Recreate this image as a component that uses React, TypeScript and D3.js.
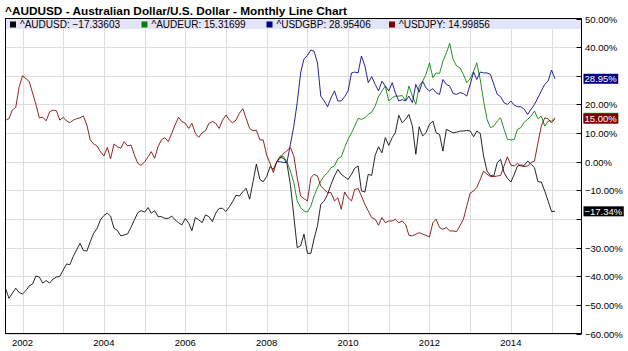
import React from 'react';
import * as d3 from 'd3';

// ---- data (monthly, % change) ----
const audusdStart = new Date(2001, 7, 1);
const crossStart = new Date(2008, 3, 1);

const audusd = [
  -44.2, -47.7, -46, -44.2, -45.7,
  -46.2, -45, -43.4, -42.7, -39.9, -40.3, -42.4, -41.5, -42.4, -41, -40.3, -40.1,
  -37.8, -35.7, -36, -33.1, -30.8, -28.5, -31, -31.2, -27.9, -25, -23.3, -20.3,
  -18.8, -18, -19, -23.3, -24, -25.9, -25.6, -25.2, -22.9, -20.3, -17.8, -17.1,
  -17.6, -16, -18, -17.1, -19.2, -19.2, -19.8, -19.8, -19, -20.3, -21.3, -22.1,
  -19.8, -21.5, -24.1, -19.5, -20.3, -21.3, -18.6, -19.2, -20.9, -18, -16.3, -16.3,
  -17.4, -15.7, -14, -11.7, -12, -10.5, -9.3, -13.1, -7, -0.8, -6.2, -7,
  -5.2, -1.7, -2.7, 0, 1.5, 1.2, -0.6, -8, -19, -30, -29.4, -25.3,
  -32, -32, -27, -22.4, -14.9, -13.7, -11.4, -7.9, -5, -2.7, -4.4, -5.3,
  -6.2, -4.4, -2.3, -1.5, -10.2, -10.6, -4.4, -4.8, 2.2, 5.2, 3.1, 8.4,
  5.7, 8.4, 10.1, 16.2, 13.6, 14.8, 16.5, 12.4, 2.6, 12.2, 9, 10.1,
  13, 14.2, 10.1, 9.5, 3.7, 11.3, 10.7, 10.1, 10.3, 10.7, 10.7, 10.9,
  10.7, 8.7, 10.7, 9.9, 2, -3.3, -4.8, -5, -0.3, 0.8, -3.8, -5.8,
  -7.1, -4.4, -1.5, -1.2, -1.3, 0.2, -0.9, -2.1, -7, -7.1, -10.2, -13.7,
  -17.4, -17.34,
];

const usdjpy = [
  14.5, 15, 18, 19, 26,
  30, 29, 28, 24, 20, 15.3, 15.5, 14.3, 17.4, 18, 17.8, 14.5,
  15.5, 14.2, 13.6, 14.5, 15, 15.3, 16, 12.8, 7.6, 6.2, 5.5, 3.5,
  2, 5, 1, 6.2, 5.2, 4.7, 7, 5.5, 5.8, 2.3, -0.6, -1.3,
  0, 1.7, 3.5, 1.2, 5.2, 7.6, 8.4, 7, 9.9, 12.8, 15.5, 14,
  13.4, 11.6, 13.4, 9.9, 8.5, 10.1, 10.8, 13.4, 14, 13.4, 11.6, 14.5,
  16.3, 14.5, 13.6, 14.5, 16.9, 18.5, 15.1, 11.6, 10.8, 11, 7.6, 7.6,
  2.3, -0.6, -3.8, 0, 1.2, 2.9, 3.8, 5, 2, -5.6, -12, -12.9,
  -13.7, -5.6, -4.4, -5, -8.5, -9.7, -10.8, -10.8, -13.7, -12.6, -16.6, -10.6,
  -12.6, -13.7, -9.7, -9.4, -12, -14.9, -17.2, -19.5, -20.1, -22.2, -19.5, -21.3,
  -20.7, -20.7, -20.1, -21.3, -20.7, -21.9, -25.7, -25.9, -25.3, -24.8, -25.3, -25.7,
  -26.3, -21.3, -20.1, -23, -23.6, -23, -24.2, -24.2, -24.4, -22.4, -20.1, -15.5,
  -11, -10.2, -9, -6.2, -3.3, -4.4, -5.2, -5.2, -5, -4.8, -1.5, 1.7,
  -1.2, -1.5, -0.6, -1.5, -1.7, -1.5, -0.3, 0.2, 6.6, 12.4, 15.3, 15,
  13.6, 15.0,
];

const audeur = [
  0, 2, 1.8, 0, -3.3, -7.3, -13.7, -16, -17.2,
  -17.6, -15.5, -12, -9.1, -6.7, -5, -3.8, -2.1, -1.5, 1, 1.7, 4.9,
  7.8, 10.1, 12.4, 15.1, 14.8, 15.3, 16.5, 17.3, 19.4, 22.7, 24.7, 26.4,
  21.2, 22.3, 22.9, 22.9, 23.1, 21.4, 26.4, 22.9, 20, 26.4, 28.1, 30.5,
  34.5, 29.3, 31, 30.8, 35.1, 38, 41.3, 35.7, 33.4, 32.8, 30.5, 27.6,
  29, 31.6, 34.5, 28.7, 21.2, 14.8, 11.9, 12.4, 14.2, 15.3, 11.3, 7.8,
  7.6, 7.8, 11.3, 11.9, 13.8, 14.8, 15.9, 17.7, 15, 15.9, 12.4, 14.2,
  14.2, 15.32,
];

const usdgbp = [
  0, 0, -0.3, -0.3, 6, 12.4, 20.6, 31, 35.9,
  37.1, 39, 38.6, 34.5, 22.9, 21.2, 19.2, 22.3, 24.7, 21.2, 21.2, 22.7,
  24.7, 31, 31.3, 31, 36.9, 33.4, 27.6, 29.7, 27, 24.7, 28.1, 26.4,
  24.7, 27.6, 24.1, 21.2, 21.7, 21.2, 22.9, 20.6, 27, 24.3, 28.1, 25.8,
  24.7, 25.5, 24.1, 23.5, 28.7, 27, 26.4, 23.8, 23.5, 24.1, 23.8, 22.9,
  27, 31.3, 28.7, 31.3, 31, 31, 30.5, 27, 23.5, 22.7, 20.6, 20,
  21.2, 19.7, 19.2, 19.2, 18.3, 16.5, 18.3, 20, 22.3, 24.7, 27, 28.1,
  32, 28.95,
];

const seriesNames = ['^AUDUSD', '^AUDEUR', '^USDGBP', '^USDJPY'];
const legendValues = ['\u221217.33603', '15.31699', '28.95406', '14.99856'];
const lastLabels = ['\u221217.34%', '15.32%', '28.95%', '15.00%'];
const lastValues = [-17.34, 15.32, 28.95, 15.0];
const seriesColors = ['#000000', '#008000', '#000080', '#800000'];
const yTicks = [-60, -50, -40, -30, -20, -10, 0, 10, 20, 30, 40, 50];
const labelYears = [2002, 2004, 2006, 2008, 2010, 2012, 2014];
const gridYears = [2002, 2003, 2004, 2005, 2006, 2007, 2008, 2009, 2010, 2011, 2012, 2013, 2014, 2015];
const title = '^AUDUSD - Australian Dollar/U.S. Dollar - Monthly Line Chart';

const FONT = '"Liberation Sans", Arial, Helvetica, sans-serif';

function toPoints(start: Date, vals: number[]) {
  return vals.map((v, i) => ({ date: d3.timeMonth.offset(start, i), v }));
}

const fmtTick = (v: number) => (v < 0 ? '\u2212' : '') + Math.abs(v).toFixed(2) + '%';

function textWidth(s: string, size: number) {
  let w = 0;
  for (const c of s) {
    if (c === '.') w += 0.278;
    else if (c === '%') w += 0.889;
    else if (c === '\u2212') w += 0.584;
    else w += 0.556;
  }
  return w * size;
}

export default function App() {
  const W = 628, H = 351;
  const left = 5.5, right = 581.5, top = 18.5, bottom = 333.5;
  const FS = 9.5;

  const x = d3.scaleTime()
    .domain([new Date(2001, 7, 1), new Date(2015, 8, 27)])
    .range([left, right]);
  const y = d3.scaleLinear().domain([-60, 50]).range([bottom, top]);

  const series = [
    toPoints(audusdStart, audusd),
    toPoints(crossStart, audeur),
    toPoints(crossStart, usdgbp),
    toPoints(audusdStart, usdjpy),
  ];

  const line = d3.line<{ date: Date; v: number }>()
    .x((d) => x(d.date))
    .y((d) => y(d.v));

  const legendX = [10, 141.5, 266.5, 389];
  const tagCenters = lastValues.map((v) => y(v));
  const visibleTicks = yTicks.filter((t) => tagCenters.every((c) => Math.abs(y(t) + 0.5 - c) > 10.5));

  return (
    <svg width={W} height={H} style={{ position: 'absolute', left: 0, top: 0, background: '#fff' }}
      fontFamily={FONT}>
      <rect x={0} y={0} width={W} height={H} fill="#fff" />
      <text x={5} y={14.5} fontSize={11.8} fontWeight="bold" fill="#000">{title}</text>

      {/* grid */}
      {gridYears.map((yr) => (
        <line key={'gx' + yr} x1={Math.round(x(new Date(yr, 0, 1))) + 0.5} x2={Math.round(x(new Date(yr, 0, 1))) + 0.5}
          y1={top} y2={bottom} stroke="#dedede" strokeWidth={1} />
      ))}
      {yTicks.map((t) => (
        <line key={'gy' + t} x1={left} x2={right} y1={Math.round(y(t)) + 0.5} y2={Math.round(y(t)) + 0.5}
          stroke="#dedede" strokeWidth={1} />
      ))}

      {/* legend band */}
      <rect x={left} y={top} width={right - left} height={10.5} fill="#e4e4f8" />
      {seriesNames.map((n, i) => (
        <g key={'lg' + n}>
          <rect x={legendX[i]} y={21.5} width={6} height={6} fill={seriesColors[i]} />
          <text x={legendX[i] + 10} y={28} fontSize={10} fill="#000">{n + ': ' + legendValues[i]}</text>
        </g>
      ))}

      {/* lines */}
      {series.map((s, i) => (
        <path key={'ln' + i} d={line(s) || ''} fill="none" stroke={seriesColors[i]} strokeWidth={1}
          strokeOpacity={0.85} strokeLinejoin="round" />
      ))}

      {/* frame */}
      <rect x={left} y={top} width={right - left} height={bottom - top} fill="none" stroke="#000" strokeWidth={1} />

      {/* right axis ticks & labels */}
      {yTicks.map((t) => (
        <line key={'yt' + t} x1={right - 5} x2={right} y1={Math.round(y(t)) + 0.5} y2={Math.round(y(t)) + 0.5} stroke="#000" />
      ))}
      {visibleTicks.map((t) => (
        <text key={'yl' + t} x={585} y={y(t) + 4} fontSize={FS} fill="#000">{fmtTick(t)}</text>
      ))}

      {/* bottom axis labels */}
      {labelYears.map((yr) => (
        <text key={'xl' + yr} x={x(new Date(yr, 0, 1))} y={346} fontSize={FS} textAnchor="middle" fill="#000">{yr}</text>
      ))}

      {/* last value tags */}
      {[0, 1, 2, 3].map((i) => {
        const cy = tagCenters[i];
        const w = textWidth(lastLabels[i], FS) + 2.5;
        return (
          <g key={'tag' + i}>
            <rect x={583.5} y={cy - 5} width={w} height={10} fill={seriesColors[i]} />
            <text x={584.5} y={cy + 3.5} fontSize={FS} fill="#fff">{lastLabels[i]}</text>
          </g>
        );
      })}
    </svg>
  );
}
